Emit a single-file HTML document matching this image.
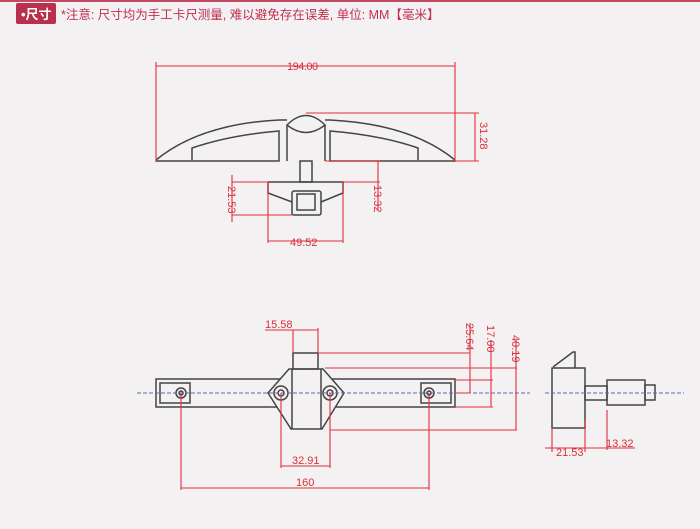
<!DOCTYPE html>
<html><head><meta charset="utf-8"><style>
body{margin:0;width:700px;height:529px;background:#f4f1f3;overflow:hidden;font-family:"Liberation Sans","Noto Sans CJK SC",sans-serif}
</style></head><body>
<svg width="700" height="529" viewBox="0 0 700 529" xmlns="http://www.w3.org/2000/svg" style="position:absolute;left:0;top:0">
<rect x="0" y="0" width="700" height="2" fill="#c24a63"/>
<rect x="16" y="3" width="40" height="21" rx="2" fill="#b8304c"/>
<text x="21" y="19" font-size="13" fill="#fff" font-family="Liberation Sans,Noto Sans CJK SC,sans-serif" font-weight="bold">•尺寸</text>
<text x="61" y="19" font-size="12.5" fill="#c0304c" font-family="Liberation Sans,Noto Sans CJK SC,sans-serif">*注意: 尺寸均为手工卡尺测量, 难以避免存在误差, 单位: MM【毫米】</text>

<g fill="none" stroke="#444" stroke-width="1.5">
<path d="M156 160 Q200 124 279 120 L287 120"/>
<path d="M192 160 L192 148 Q230 135 279 131 L279 161 L156 161"/>
<path d="M455 160 Q411 124 330 120 L325 120"/>
<path d="M418 160 L418 148 Q380 135 330 131 L330 161 L455 161"/>
<path d="M287 125 Q306 106 325 125 Q306 140 287 125 Z"/>
<path d="M287 125 L287 161 M325 125 L325 161"/>
<rect x="300" y="161" width="12" height="21"/>
<path d="M268 182 L343 182 L343 193 L321 202 M268 182 L268 193 L292 202"/>
<rect x="292" y="191" width="29" height="24" rx="2"/>
<rect x="297" y="194" width="18" height="16"/>
<rect x="156" y="379" width="299" height="28"/>
<rect x="160" y="383" width="30" height="20"/>
<rect x="421" y="383" width="30" height="20"/>
<path d="M289 369 L323 369 L344 393 L322 429 L291 429 L268 393 Z" fill="#f4f1f3"/>
<path d="M292 369 L292 429 M321 369 L321 429"/>
<rect x="293" y="353" width="25" height="16"/>
<circle cx="181" cy="393" r="5"/><circle cx="181" cy="393" r="2"/>
<circle cx="281" cy="393" r="7"/><circle cx="281" cy="393" r="3"/>
<circle cx="330" cy="393" r="7"/><circle cx="330" cy="393" r="3"/>
<circle cx="429" cy="393" r="5"/><circle cx="429" cy="393" r="2"/>
<rect x="552" y="368" width="33" height="60"/>
<path d="M553 367 L573 352 L575 352 L575 368"/>
<rect x="585" y="386" width="22" height="14"/>
<rect x="607" y="380" width="38" height="25"/>
<rect x="645" y="385" width="10" height="15"/>
</g>
<path d="M137 393 L530 393 M545 393 L684 393" stroke="#5a6aa8" stroke-width="1" stroke-dasharray="4,2"/>

<g fill="none" stroke="#e0303a" stroke-width="1.1">
<path d="M156 66 L455 66 M156 62 L156 162 M455 62 L455 162"/>
<path d="M306 113 L479 113 M455 161 L479 161 M475 113 L475 161"/>
<path d="M325 161 L380 161 M343 182 L380 182 M378 161 L378 210"/>
<path d="M232 175 L232 222 M232 182 L268 182 M232 215 L292 215"/>
<path d="M268 182 L268 243 M343 182 L343 243 M268 241 L343 241"/>
<path d="M265 330 L318 330 M293 330 L293 353 M318 328 L318 353"/>
<path d="M318 353 L470 353 M325 368 L517 368 M455 380 L493 380 M455 393 L470 393 M455 407 L493 407 M330 430 L517 430"/>
<path d="M470 323 L470 393 M491 340 L491 407 M516 340 L516 430"/>
<path d="M281 393 L281 468 M330 393 L330 468 M281 466 L330 466"/>
<path d="M181 393 L181 490 M429 393 L429 490 M181 488 L429 488"/>
<path d="M552 428 L552 452 M585 420 L585 452 M607 410 L607 450 M545 448 L635 448"/>
</g>
<g fill="#d8303a" font-size="11" font-family="Liberation Sans,sans-serif">
<text x="287" y="70" style="letter-spacing:-0.5px">194.00</text>
<text x="290" y="246">49.52</text>
<text transform="translate(480,122) rotate(90)">31.28</text>
<text transform="translate(374,185) rotate(90)">13.32</text>
<text transform="translate(228,186) rotate(90)">21.53</text>
<text x="265" y="328">15.58</text>
<text transform="translate(466,323) rotate(90)">25.64</text>
<text transform="translate(487,325) rotate(90)">17.00</text>
<text transform="translate(512,335) rotate(90)">40.19</text>
<text x="292" y="464">32.91</text>
<text x="296" y="486">160</text>
<text x="556" y="456">21.53</text>
<text x="606" y="447">13.32</text>
</g>
</svg>
</body></html>
